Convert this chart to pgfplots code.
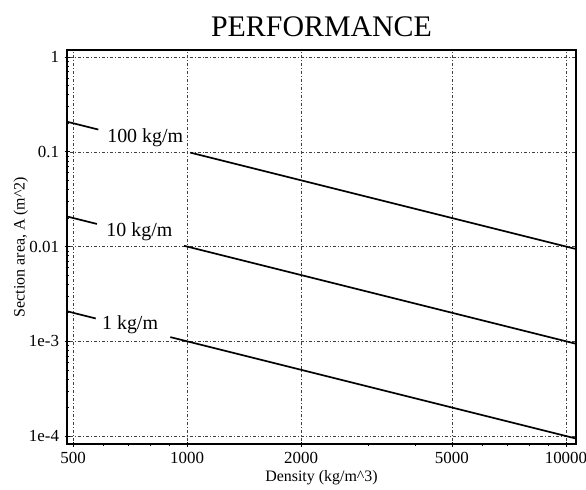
\documentclass[border=0pt]{standalone}
\usepackage{pgfplots}
\pgfplotsset{compat=1.18}
\usepackage{fontspec}
\setmainfont{Liberation Serif}
\newcommand{\fs}[1]{\fontsize{#1}{#1}\selectfont}

\begin{document}
\begin{tikzpicture}[x=1bp,y=1bp]
\begin{axis}[
    at={(0,0)}, anchor=south west,
    scale only axis,
    width=509bp, height=394bp,
    xmode=log, ymode=log,
    xmin=482, xmax=10630,
    ymin=8.24e-5, ymax=1.186,
    xtick={500,1000,2000,5000,10000},
    xticklabels={500,1000,2000,5000,10000},
    minor xtick={600,700,800,900,3000,4000,6000,7000,8000,9000},
    ytick={1e-4,1e-3,0.01,0.1,1},
    yticklabels={1e-4,1e-3,0.01,0.1,1},
    minor ytick={2e-4,3e-4,4e-4,5e-4,6e-4,7e-4,8e-4,9e-4,
                 2e-3,3e-3,4e-3,5e-3,6e-3,7e-3,8e-3,9e-3,
                 0.02,0.03,0.04,0.05,0.06,0.07,0.08,0.09,
                 0.2,0.3,0.4,0.5,0.6,0.7,0.8,0.9},
    xtick pos=bottom, ytick pos=left,
    tick align=center,
    major tick length=5bp, minor tick length=3bp,
    xmajorgrids, ymajorgrids,
    grid style={black!75, line width=0.5pt, dash pattern=on 1pt off 2pt on 3pt off 2pt},
    axis line style={line width=1.4pt},
    tick style={black, line width=0.6pt},
    xticklabel style={font=\fs{17}, yshift=-2bp},
    yticklabel style={font=\fs{17}, xshift=-2bp},
    xlabel={Density (kg/m\textasciicircum 3)},
    ylabel={Section area, A (m\textasciicircum 2)},
    xlabel style={font=\fs{16}, yshift=0bp},
    ylabel style={font=\fs{16}, yshift=-6bp},
    title={PERFORMANCE},
    title style={font=\fs{30}, yshift=4bp},
]
% 100 kg/m
\addplot[black, line width=1.7pt] coordinates {(482,0.2075) (583,0.1715)};
\addplot[black, line width=1.7pt] coordinates {(1020,0.0980) (10630,0.00941)};
% 10 kg/m
\addplot[black, line width=1.7pt] coordinates {(482,0.02075) (578,0.0173)};
\addplot[black, line width=1.7pt] coordinates {(982,0.01018) (10630,0.000941)};
% 1 kg/m
\addplot[black, line width=1.7pt] coordinates {(482,0.002075) (574,0.00174)};
\addplot[black, line width=1.7pt] coordinates {(903,0.001107) (10630,0.0000941)};

\node[anchor=west, font=\fs{20}, inner sep=0pt] at (axis cs:615,0.140) {100 kg/m};
\node[anchor=west, font=\fs{20}, inner sep=0pt] at (axis cs:612,0.0144) {10 kg/m};
\node[anchor=west, font=\fs{20}, inner sep=0pt] at (axis cs:596,0.00151) {1 kg/m};
\end{axis}
\pgfresetboundingbox
\path[use as bounding box] (-67bp,-46bp) rectangle (519bp,444bp);
\end{tikzpicture}
\end{document}
